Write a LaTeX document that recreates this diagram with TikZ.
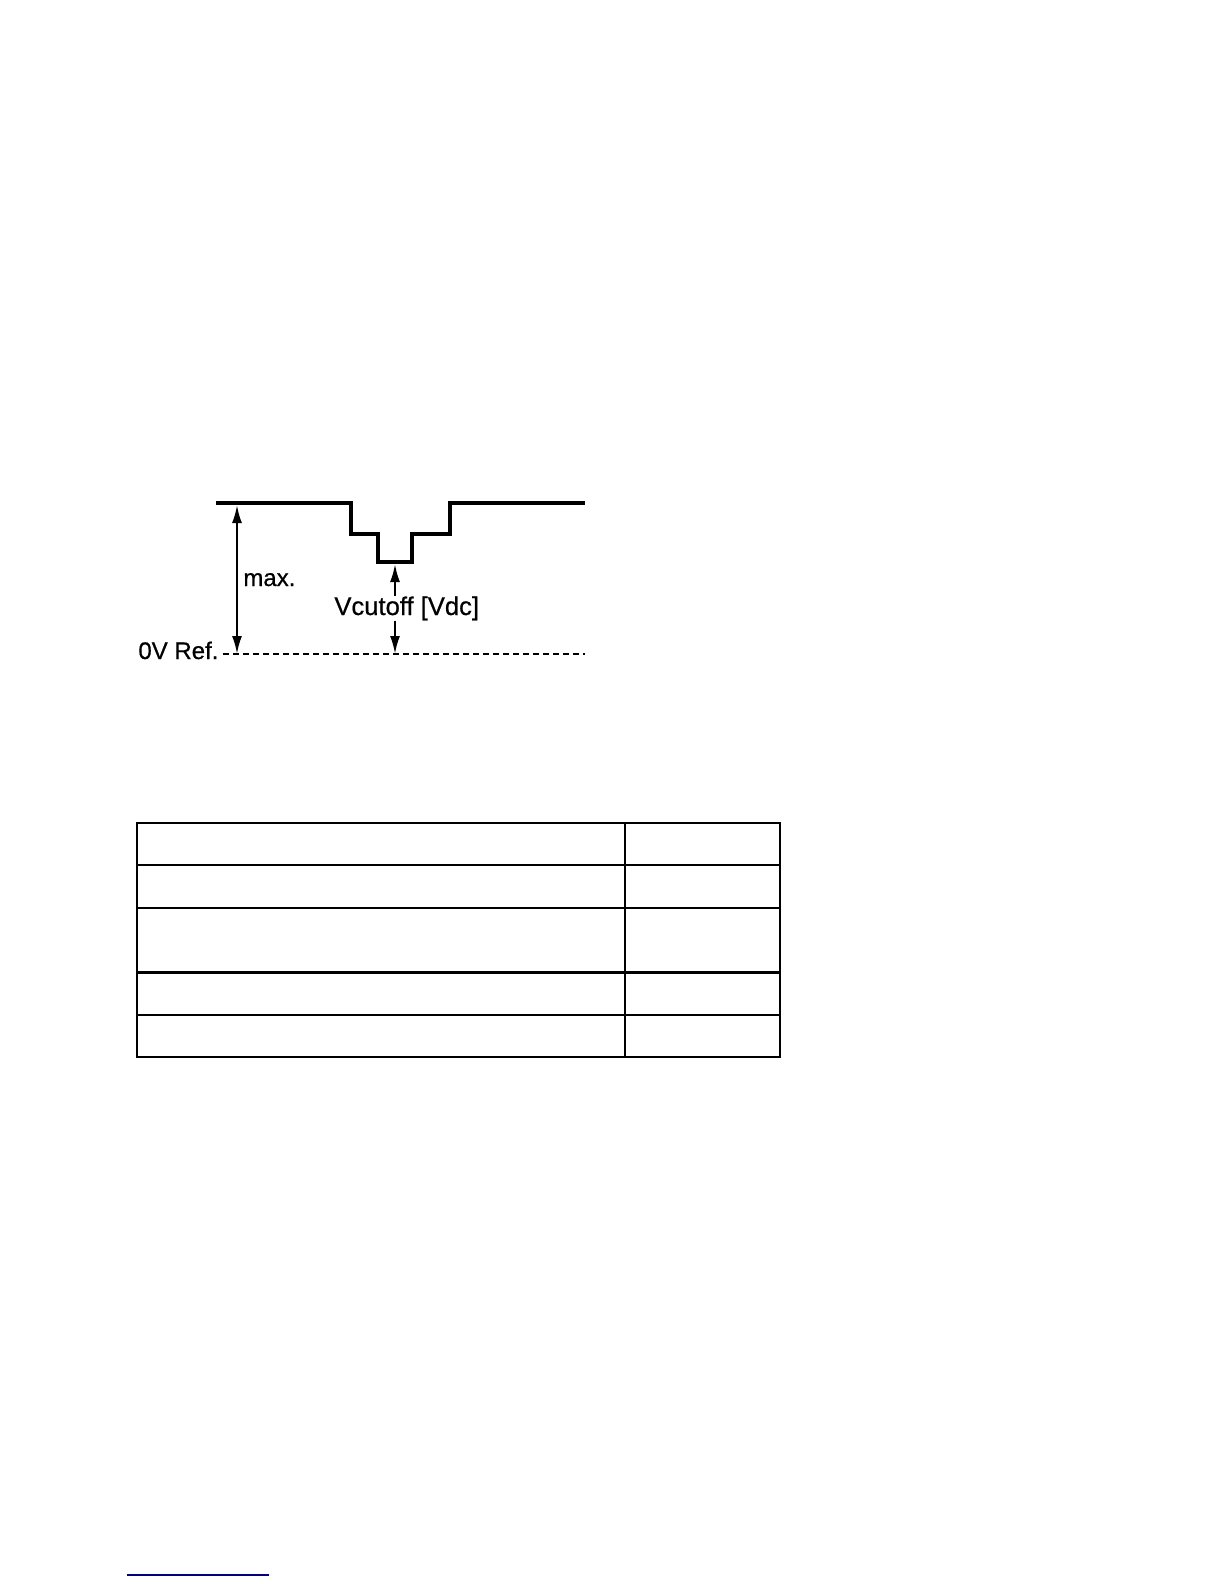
\documentclass[tikz,border=0pt]{standalone}
\usepackage{fontspec}
\setmainfont{Liberation Sans}
\newfontfamily\labelfont{Liberation Sans}[FakeBold=0.6]
\usetikzlibrary{arrows.meta}
\definecolor{linkblue}{RGB}{0,0,128}
\begin{document}
\begin{tikzpicture}[x=0.5pt, y=-0.5pt,
  every node/.style={font=\labelfont\fontsize{12}{14}\selectfont, inner sep=0pt},
  wave/.style={line width=1.7pt, line join=miter},
  dim/.style={line width=1.1pt, {Latex[length=9pt, width=5pt]}-{Latex[length=9pt, width=5pt]}},
  halfdim/.style={line width=1.1pt, -{Latex[length=9pt, width=5pt]}},
  zeroline/.style={line width=1pt, dash pattern=on 3pt off 2pt},
  tbl/.style={line width=0.7pt}]
  \useasboundingbox (0,0) rectangle (1224,1584);
  % signal with the two-step dip
  \draw[wave] (216,503) -- (351,503) |- (378,534) |- (412,562) |- (450,534) |- (585,503);
  \coordinate (top) at (237,505);
  \coordinate (zero) at (237,654);
  \coordinate (dip) at (395,564);
  \coordinate (base) at (395,654);
  % 0 V reference
  \node[anchor=base west] (ref) at (138,659) {0V Ref.};
  \draw[zeroline] (223,654) -- (585,654);
  % dimensions
  \draw[dim] (top) -- (zero);
  \node[anchor=base west] (max) at (243,586) {max.};
  \node[anchor=base west, font=\labelfont\fontsize{12.8}{15}\selectfont] (vc) at (334,615) {Vcutoff [Vdc]};
  \draw[halfdim] (vc.north -| dip) -- (dip);
  \draw[halfdim] (vc.south -| base) -- (base);
  % empty table
  \draw[tbl] (137,823) rectangle (780,1057);
  \foreach \y in {865,908,1015} {
    \draw[tbl] (137,\y) -- (780,\y);
  }
  \draw[line width=1.3pt] (137,972.5) -- (780,972.5);
  \draw[line width=1.3pt] (137,1057) -- (780,1057);
  \draw[tbl] (625,823) -- (625,1057);
  % link underline
  \draw[linkblue, line width=0.6pt] (127,1575) -- (269,1575);
\end{tikzpicture}
\end{document}
